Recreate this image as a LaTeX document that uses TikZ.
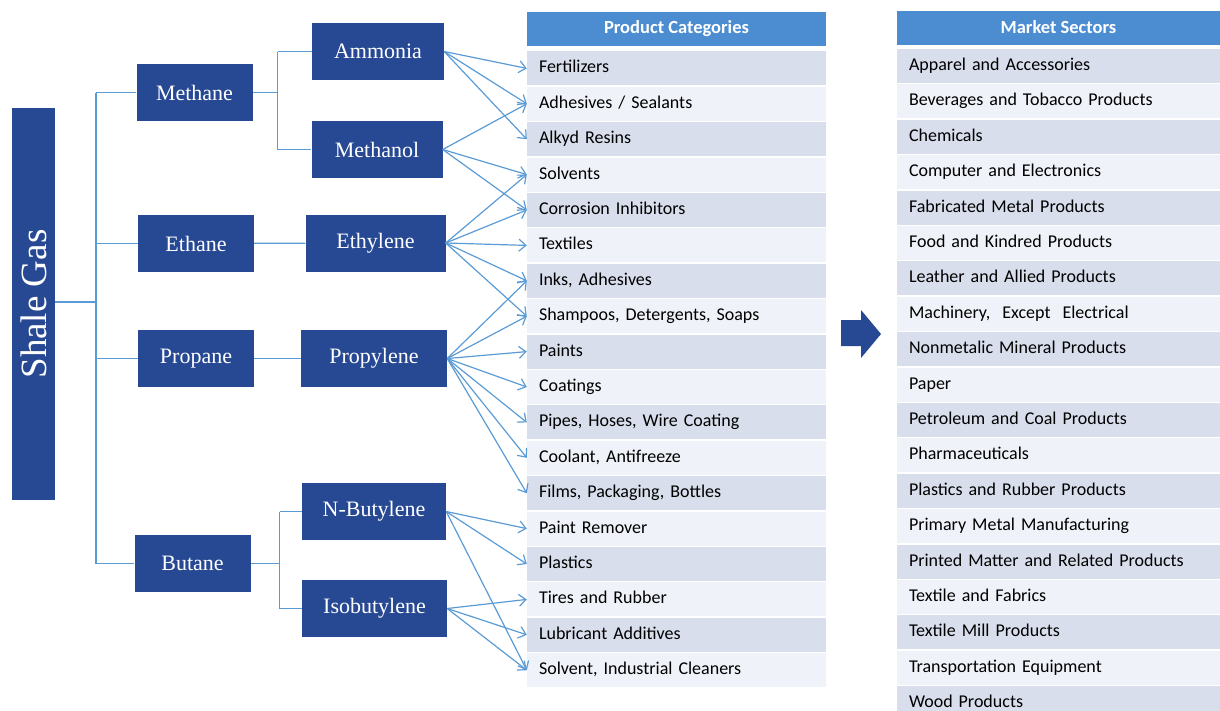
\documentclass[tikz,border=0pt]{standalone}
\usepackage{fontspec}
\usepackage{xcolor}
\usepackage{tikz}
\usetikzlibrary{positioning, arrows.meta, calc}

\setmainfont{Liberation Serif}
\newfontfamily\listfont{Carlito}
\definecolor{boxblue}{RGB}{39,73,148}
\definecolor{headblue}{RGB}{76,141,210}
\definecolor{linkblue}{RGB}{91,155,213}
\definecolor{rowdark}{RGB}{216,222,236}
\definecolor{rowlight}{RGB}{239,242,248}
\frenchspacing

\begin{document}
\begin{tikzpicture}[
        x=1pt, y=-1pt,
        gas/.style={rectangle, fill=boxblue, text=white, rotate=90, minimum width=392pt, minimum height=43pt, font=\fontsize{37}{42}\selectfont},
        feed/.style={rectangle, fill=boxblue, text=white, minimum width=116pt, minimum height=57pt, font=\fontsize{22}{26}\selectfont},
        chem/.style={feed, minimum width=144pt},
        head/.style={rectangle, fill=headblue, text=white, minimum height=34pt, font=\listfont\bfseries\fontsize{18.5}{22}\selectfont},
        rowa/.style={rectangle, fill=rowdark, minimum height=34pt, inner ysep=0pt, inner xsep=12pt, text height=13pt, text depth=4pt, text width=275pt, align=left, font=\listfont\fontsize{18}{21}\selectfont},
        rowb/.style={rowa, fill=rowlight},
        secta/.style={rowa, text width=299pt},
        sectb/.style={secta, fill=rowlight},
        link/.style={draw=linkblue, line width=1.2pt},
        flow/.style={link, -{Straight Barb[length=7pt, width=12pt, line width=1.2pt]}}
    ]
        \useasboundingbox (0,0) rectangle (1220,710);

        % Feedstock tree
        \node[gas] (shale) at (33.5,304) {Shale Gas};
        \node[feed] (methane) at (194.5,92.5) {Methane};
        \node[feed] (ethane) at (196,243.5) {Ethane};
        \node[feed] (propane) at (196,358.5) {Propane};
        \node[feed] (butane) at (192.5,563.5) {Butane};

        % Intermediates
        \node[chem, minimum width=132pt] (ammonia) at (378,51.5) {Ammonia};
        \node[chem, minimum width=131pt] (methanol) at (377,149.5) {Methanol};
        \node[chem, minimum width=140pt] (ethylene) at (375.5,243) {Ethylene};
        \node[chem, minimum width=146pt] (propylene) at (374,358.5) {Propylene};
        \node[chem] (nbutylene) at (374,511.5) {N-Butylene};
        \node[chem, minimum width=145pt] (isobutylene) at (374.5,608.5) {Isobutylene};

        % Tree lines
        \coordinate (trunk) at (96,302);
        \draw[link] (shale.south |- trunk) -- (trunk);
        \draw[link] (trunk |- methane) -- (trunk |- butane);
        \draw[link] (trunk |- methane) -- (methane.west);
        \draw[link] (trunk |- ethane) -- (ethane.west);
        \draw[link] (trunk |- propane) -- (propane.west);
        \draw[link] (trunk |- butane) -- (butane.west);
        \draw[link] (methane.east) -- ++(25,0) coordinate (msplit);
        \draw[link] (msplit |- ammonia) -- (msplit |- methanol);
        \draw[link] (msplit |- ammonia) -- (ammonia.west);
        \draw[link] (msplit |- methanol) -- (methanol.west);
        \draw[link] (ethane) -- (ethylene);
        \draw[link] (propane) -- (propylene);
        \draw[link] (butane.east) -- ++(29,0) coordinate (bsplit);
        \draw[link] (bsplit |- nbutylene) -- (bsplit |- isobutylene);
        \draw[link] (bsplit |- nbutylene) -- (nbutylene.west);
        \draw[link] (bsplit |- isobutylene) -- (isobutylene.west);

        % Product categories
        \node[head, minimum width=299pt] (prodhead) at (676.5,29) {Product Categories};
        \node[rowa, below=5pt of prodhead] (fert) {Fertilizers};
        \node[rowb, below=1pt of fert] (adh) {Adhesives / Sealants};
        \node[rowa, below=1pt of adh] (alkyd) {Alkyd Resins};
        \node[rowb, below=1pt of alkyd] (solv) {Solvents};
        \node[rowa, below=1pt of solv] (corr) {Corrosion Inhibitors};
        \node[rowb, below=1pt of corr] (textl) {Textiles};
        \node[rowa, below=1pt of textl] (inks) {Inks, Adhesives};
        \node[rowb, below=1pt of inks] (shamp) {Shampoos, Detergents, Soaps};
        \node[rowa, below=1pt of shamp] (paints) {Paints};
        \node[rowb, below=1pt of paints] (coat) {Coatings};
        \node[rowa, below=1pt of coat] (pipes) {Pipes, Hoses, Wire Coating};
        \node[rowb, below=1pt of pipes] (cool) {Coolant, Antifreeze};
        \node[rowa, below=1pt of cool] (films) {Films, Packaging, Bottles};
        \node[rowb, below=1pt of films] (premov) {Paint Remover};
        \node[rowa, below=1pt of premov] (plast) {Plastics};
        \node[rowb, below=1pt of plast] (tires) {Tires and Rubber};
        \node[rowa, below=1pt of tires] (lubr) {Lubricant Additives};
        \node[rowb, below=1pt of lubr] (clean) {Solvent, Industrial Cleaners};

        % Flows to products
        \draw[flow] (ammonia.east) -- (fert.west);
        \draw[flow] (ammonia.east) -- (adh.west);
        \draw[flow] (ammonia.east) -- (alkyd.west);
        \draw[flow] (methanol.east) -- (adh.west);
        \draw[flow] (methanol.east) -- (solv.west);
        \draw[flow] (methanol.east) -- (corr.west);
        \draw[flow] (ethylene.east) -- (solv.west);
        \draw[flow] (ethylene.east) -- (corr.west);
        \draw[flow] (ethylene.east) -- (textl.west);
        \draw[flow] (ethylene.east) -- (inks.west);
        \draw[flow] (ethylene.east) -- (shamp.west);
        \draw[flow] (propylene.east) -- (inks.west);
        \draw[flow] (propylene.east) -- (shamp.west);
        \draw[flow] (propylene.east) -- (paints.west);
        \draw[flow] (propylene.east) -- (coat.west);
        \draw[flow] (propylene.east) -- (pipes.west);
        \draw[flow] (propylene.east) -- (cool.west);
        \draw[flow] (propylene.east) -- (films.west);
        \draw[flow] (nbutylene.east) -- (premov.west);
        \draw[flow] (nbutylene.east) -- (plast.west);
        \draw[flow] (nbutylene.east) -- (clean.west);
        \draw[flow] (isobutylene.east) -- (tires.west);
        \draw[flow] (isobutylene.east) -- (lubr.west);
        \draw[flow] (isobutylene.east) -- (clean.west);

        % Big arrow
        \fill[boxblue] (841,320) -- (861,320) -- (861,310) -- (881,334) -- (861,358) -- (861,346) -- (841,346) -- cycle;

        % Market sectors
        \node[head, minimum width=323pt] (markhead) at (1058.5,27.5) {Market Sectors};
        \node[secta, below=4pt of markhead] (apparel) {Apparel and Accessories};
        \node[sectb, below=1pt of apparel] (bever) {Beverages and Tobacco Products};
        \node[secta, below=1pt of bever] (chemic) {Chemicals};
        \node[sectb, below=1pt of chemic] (comput) {Computer and Electronics};
        \node[secta, below=1pt of comput] (fabric) {Fabricated Metal Products};
        \node[sectb, below=1pt of fabric] (food) {Food and Kindred Products};
        \node[secta, below=1pt of food] (leather) {Leather and Allied Products};
        \node[sectb, below=1pt of leather] (machin) {Machinery,\ \ Except\ \ Electrical};
        \node[secta, below=1pt of machin] (nonmet) {Nonmetalic Mineral Products};
        \node[sectb, below=1pt of nonmet] (paper) {Paper};
        \node[secta, below=1pt of paper] (petrol) {Petroleum and Coal Products};
        \node[sectb, below=1pt of petrol] (pharma) {Pharmaceuticals};
        \node[secta, below=1pt of pharma] (rubber) {Plastics and Rubber Products};
        \node[sectb, below=1pt of rubber] (metal) {Primary Metal Manufacturing};
        \node[secta, below=1pt of metal] (printed) {Printed Matter and Related Products};
        \node[sectb, below=1pt of printed] (fabrics) {Textile and Fabrics};
        \node[secta, below=1pt of fabrics] (mill) {Textile Mill Products};
        \node[sectb, below=1pt of mill] (transp) {Transportation Equipment};
        \node[secta, below=1pt of transp] (wood) {Wood Products};

    \end{tikzpicture}
\end{document}
